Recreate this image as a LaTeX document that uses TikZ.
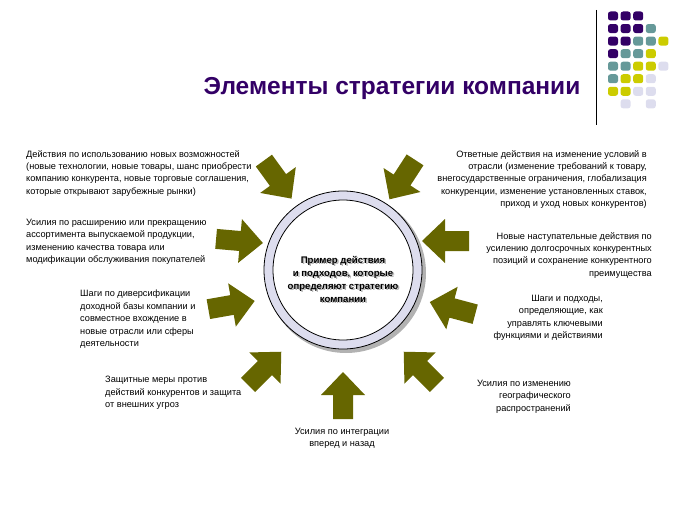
\documentclass[tikz,border=0pt]{standalone}
\usepackage{fontspec}
\setmainfont{Liberation Sans}
\begin{document}
\begin{tikzpicture}[x=1pt,y=1pt,
  lbl/.style={font=\fontsize{9.2}{12.4}\selectfont,inner sep=0pt},
  lblL/.style={lbl,align=left,anchor=north west},
  lblR/.style={lbl,align=right,anchor=north east},
  blockarrow/.pic={\fill[arrowc] (-24,-10)--(0,-10)--(0,-22)--(23,0)--(0,22)--(0,10)--(-24,10)--cycle;},
  dot/.style={fill=#1,rounded corners=2.5pt}]
\definecolor{arrowc}{HTML}{666600}
\definecolor{dP}{HTML}{330066}
\definecolor{dT}{HTML}{669999}
\definecolor{dY}{HTML}{CCCC00}
\definecolor{dL}{HTML}{DDDDEE}
\definecolor{dN}{HTML}{FFFFFF}
\useasboundingbox (0,0) rectangle (683,-511);
% dots
\foreach \r/\row in {1/{P,P,P},2/{P,P,P,T},3/{P,P,T,T,Y},4/{P,T,T,Y},5/{T,T,Y,Y,L},6/{T,Y,Y,L},7/{Y,Y,L,L},8/{N,L,N,L}}{
  \foreach \c [count=\i] in \row {
    \fill[dot=d\c] ({613+12.6*(\i-1)-5},{-16-12.55*(\r-1)-4.5}) rectangle ++(10,9);
  }}
\draw[line width=1pt] (596,-10) -- (596,-125);
\node[font=\bfseries\fontsize{24.5}{28}\selectfont,text=dP] (title) at (392,-88) {Элементы стратегии компании};
% circle
\fill[gray!60] (346,-273) circle (80);
\draw[fill=dL,line width=0.8pt] (343,-270) circle (79);
\draw[fill=white,line width=0.8pt] (343,-270) circle (70);
\node[font=\bfseries\fontsize{9.6}{13}\selectfont,align=center,text=gray!60] at (344.5,-280.5) {Пример действия\\и подходов, которые\\определяют стратегию\\компании};
\node[font=\bfseries\fontsize{9.6}{13}\selectfont,align=center] (center) at (343,-279) {Пример действия\\и подходов, которые\\определяют стратегию\\компании};
% arrows
\foreach \x/\y/\a in {278/180/-54, 402/180/-123, 240/241/-5, 445/241/180, 232/305/10, 452/308/165, 265/368/45, 420/368/135, 343/395/90}
  \pic[rotate=\a] at (\x,-\y) {blockarrow};
% texts
\node[lblL] (t1) at (26,-150) {Действия по использованию новых возможностей\\(новые технологии, новые товары, шанс приобрести\\компанию конкурента, новые торговые соглашения,\\которые открывают зарубежные рынки)};
\node[lblL] (t2) at (26,-219) {Усилия по расширению или прекращению\\ассортимента выпускаемой продукции,\\изменению качества товара или\\модификации обслуживания покупателей};
\node[lblL] (t3) at (80,-290) {Шаги по диверсификации\\доходной базы компании и\\совместное вхождение в\\новые отрасли или сферы\\деятельности};
\node[lblL] (t4) at (105,-376) {Защитные меры против\\действий конкурентов и защита\\от внешних угроз};
\node[lbl,align=center,anchor=north] (t5) at (342,-428) {Усилия по интеграции\\вперед и назад};
\node[lblR] (t6) at (647,-150) {Ответные действия на изменение условий в\\отрасли (изменение требований к товару,\\внегосударственные ограничения, глобализация\\конкуренции, изменение установленных ставок,\\приход и уход новых конкурентов)};
\node[lblR] (t7) at (652,-232) {Новые наступательные действия по\\усилению долгосрочных конкурентных\\позиций и сохранение конкурентного\\преимущества};
\node[lblR] (t8) at (603,-295) {Шаги и подходы,\\определяющие, как\\управлять ключевыми\\функциями и действиями};
\node[lblR] (t9) at (571,-380) {Усилия по изменению\\географического\\распространений};
\end{tikzpicture}
\end{document}
